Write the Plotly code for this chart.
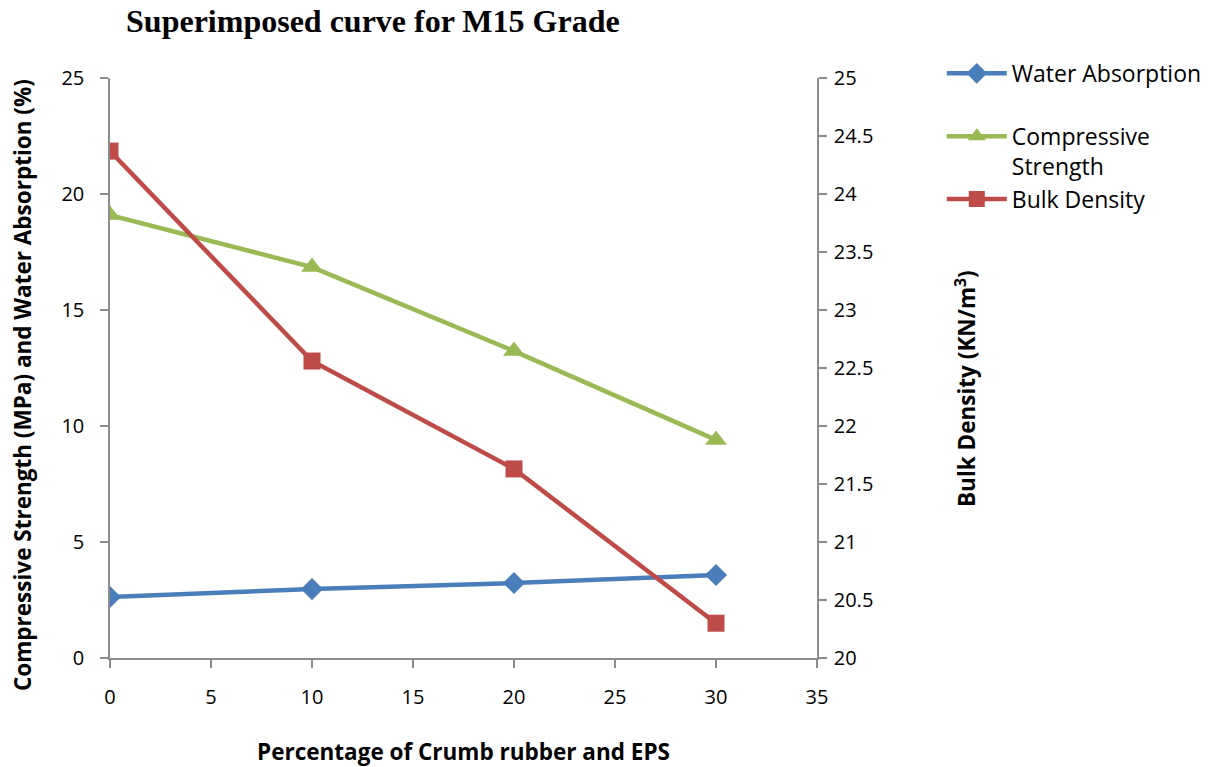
import plotly.graph_objects as go

pct = [0, 10, 20, 30]
water_absorption = [2.63, 2.97, 3.23, 3.58]
compressive_strength = [19.09, 16.85, 13.23, 9.40]
bulk_density = [24.37, 22.56, 21.63, 20.30]

font_main = "'Open Sans', sans-serif"
axis_col = "#8c8c8c"

fig = go.Figure()
fig.add_trace(go.Scatter(x=pct, y=water_absorption, name="Water Absorption<br> ",
                         mode="lines+markers",
                         line=dict(color="#4a7ebb", width=4.5),
                         marker=dict(symbol="diamond", size=17, color="#4a7ebb")))
fig.add_trace(go.Scatter(x=pct, y=compressive_strength, name="Compressive<br>Strength",
                         mode="lines+markers",
                         line=dict(color="#98b954", width=4.5),
                         marker=dict(symbol="triangle-up", size=19, color="#98b954")))
fig.add_trace(go.Scatter(x=pct, y=bulk_density, name="Bulk Density", yaxis="y2",
                         mode="lines+markers",
                         line=dict(color="#be4b48", width=4.5),
                         marker=dict(symbol="square", size=17, color="#be4b48")))

tickfont = dict(family=font_main, size=20, color="#000")
titlefont = dict(family=font_main, size=22.5, color="#000")
fig.update_layout(
    width=1224, height=767,
    margin=dict(l=110, r=407, t=78, b=109, autoexpand=False),
    paper_bgcolor="white", plot_bgcolor="white",
    title=dict(text="<b>Superimposed curve for M15 Grade</b>", x=0.103, xanchor="left",
               y=0.988, yanchor="top",
               font=dict(family="'Liberation Serif', 'Times New Roman', serif", size=32, color="#000")),
    xaxis=dict(range=[0, 35], dtick=5, showgrid=False, zeroline=False,
               showline=True, linecolor=axis_col, linewidth=1.5,
               ticks="outside", ticklen=8, tickcolor=axis_col, tickwidth=1.5,
               tickfont=tickfont, ticklabelstandoff=12,
               title=dict(text="<b>Percentage of Crumb rubber and EPS</b>",
                          font=titlefont, standoff=36)),
    yaxis=dict(range=[0, 25], dtick=5, showgrid=False, zeroline=False,
               showline=True, linecolor=axis_col, linewidth=1.5,
               ticks="outside", ticklen=8, tickcolor=axis_col, tickwidth=1.5,
               tickfont=tickfont, ticklabelstandoff=12),
    yaxis2=dict(range=[20, 25], dtick=0.5, overlaying="y", side="right",
                showgrid=False, zeroline=False,
                showline=True, linecolor=axis_col, linewidth=1.5,
                ticks="outside", ticklen=8, tickcolor=axis_col, tickwidth=1.5,
                tickfont=tickfont, ticklabelstandoff=3),
    legend=dict(x=1.1765, y=1.045, xanchor="left", yanchor="top",
                font=dict(family=font_main, size=23, color="#000"),
                valign="top", tracegroupgap=0, itemwidth=60,
                bgcolor="rgba(0,0,0,0)"),
    showlegend=True,
    annotations=[
        dict(text="<b>Compressive Strength (MPa) and Water Absorption (%)</b>",
             xref="paper", yref="paper", x=(22 - 110) / 707, y=(658 - 385) / 580,
             xanchor="center", yanchor="middle", textangle=-90, showarrow=False,
             font=titlefont),
        dict(text="<b>Bulk Density (KN/m<sup>3</sup>)</b>",
             xref="paper", yref="paper", x=(965 - 110) / 707, y=(658 - 388) / 580,
             xanchor="center", yanchor="middle", textangle=-90, showarrow=False,
             font=titlefont),
    ],
)

fig.write_html("out.html")
